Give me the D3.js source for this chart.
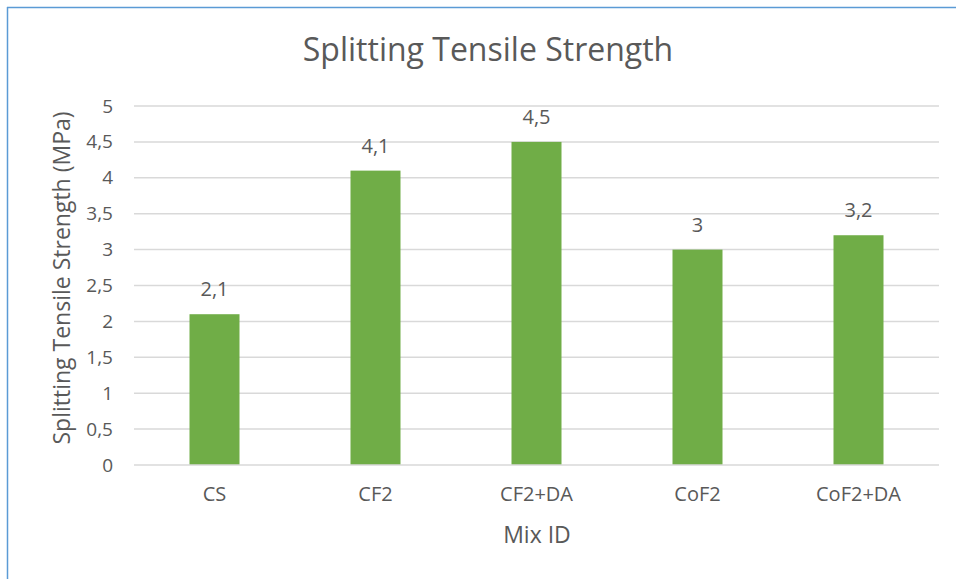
<!DOCTYPE html>
<html>
<head>
<meta charset="utf-8">
<script src="https://cdn.jsdelivr.net/npm/d3@7"></script>
<style>
  html, body { margin: 0; padding: 0; background: #fff; }
  svg { display: block; }
  text { font-family: "Open Sans", "Noto Sans", sans-serif; fill: #595959; }
</style>
</head>
<body>
<script>
// Splitting tensile strength per mix
const mixes = ["CS", "CF2", "CF2+DA", "CoF2", "CoF2+DA"];
const strengths = [2.1, 4.1, 4.5, 3.0, 3.2];
const yTicks = [0, 0.5, 1, 1.5, 2, 2.5, 3, 3.5, 4, 4.5, 5];

const W = 956, H = 579;
const plot = { left: 134, right: 939, top: 106, bottom: 465 };

const fmt = v => String(v).replace(".", ",");

const svg = d3.select("body").append("svg")
  .attr("width", W).attr("height", H);

// frame edges
svg.append("line").attr("x1", 7.5).attr("x2", 7.5).attr("y1", 7).attr("y2", H)
  .attr("stroke", "#5b9bd5").attr("stroke-width", 1.5);
svg.append("line").attr("x1", 7).attr("x2", W).attr("y1", 7.5).attr("y2", 7.5)
  .attr("stroke", "#5b9bd5").attr("stroke-width", 1.5);

const x = d3.scaleBand().domain(mixes).range([plot.left, plot.right]).paddingInner(0).paddingOuter(0);
const y = d3.scaleLinear().domain([0, 5]).range([plot.bottom, plot.top]);

// gridlines
svg.append("g").selectAll("line").data(yTicks.filter(t => t > 0)).join("line")
  .attr("x1", plot.left).attr("x2", plot.right)
  .attr("y1", d => y(d)).attr("y2", d => y(d))
  .attr("stroke", "#d9d9d9").attr("stroke-width", 1.5);

// y axis labels
const yAxis = d3.axisLeft(y).tickValues(yTicks).tickFormat(fmt).tickSize(0).tickPadding(0);
const gy = svg.append("g").attr("transform", `translate(${plot.left - 21},0)`).call(yAxis);
gy.select(".domain").remove();
gy.selectAll("text").style("font-size", "19px").attr("fill", "#595959")
  .style("font-family", "'Open Sans', sans-serif");

// bars
const barW = 50;
svg.append("g").selectAll("rect").data(strengths).join("rect")
  .attr("x", (d, i) => x(mixes[i]) + x.bandwidth() / 2 - barW / 2)
  .attr("width", barW)
  .attr("y", d => y(d))
  .attr("height", d => y(0) - y(d))
  .attr("fill", "#70ad47");

// baseline
svg.append("line").attr("x1", plot.left).attr("x2", plot.right)
  .attr("y1", plot.bottom).attr("y2", plot.bottom)
  .attr("stroke", "#d9d9d9").attr("stroke-width", 1.5);

// value labels
svg.append("g").selectAll("text").data(strengths).join("text")
  .attr("x", (d, i) => x(mixes[i]) + x.bandwidth() / 2)
  .attr("y", d => y(d) - 18)
  .attr("text-anchor", "middle")
  .style("font-size", "20px")
  .text(fmt);

// x axis labels
const xAxis = d3.axisBottom(x).tickSize(0).tickPadding(0);
const gx = svg.append("g").attr("transform", `translate(0,${plot.bottom + 22})`).call(xAxis);
gx.select(".domain").remove();
gx.selectAll("text").style("font-size", "20px").attr("fill", "#595959")
  .style("font-family", "'Open Sans', sans-serif");

// titles
svg.append("text").attr("x", 488).attr("y", 61).attr("text-anchor", "middle")
  .style("font-size", "32px").text("Splitting Tensile Strength");
svg.append("text").attr("x", 537).attr("y", 543).attr("text-anchor", "middle")
  .style("font-size", "23px").text("Mix ID");
svg.append("text").attr("transform", "translate(70,278) rotate(-90)")
  .attr("text-anchor", "middle").style("font-size", "23px")
  .text("Splitting Tensile Strength (MPa)");
</script>
</body>
</html>
